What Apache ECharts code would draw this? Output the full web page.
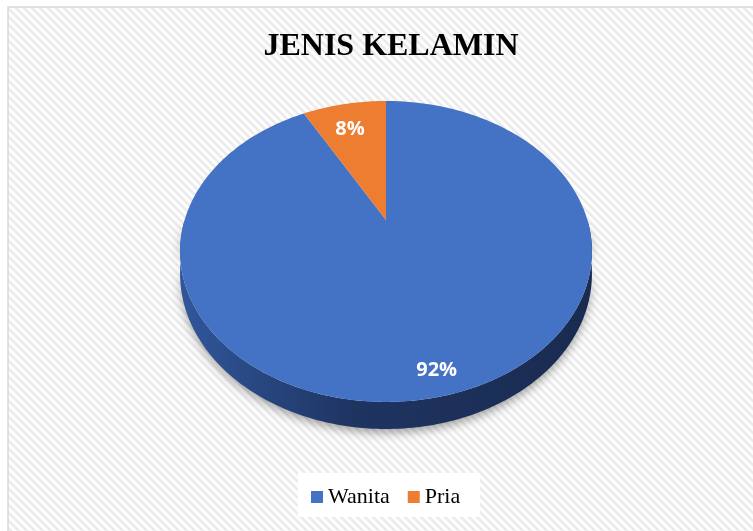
<!DOCTYPE html>
<html>
<head>
<meta charset="utf-8">
<title>Jenis Kelamin</title>
<script src="https://cdn.jsdelivr.net/npm/echarts@6/dist/echarts.min.js"></script>
<style>
  html, body { margin: 0; padding: 0; background: #fff; }
  #main { width: 753px; height: 531px; }
</style>
</head>
<body>
<div id="main"></div>
<script>
// data
var categories = ['Wanita', 'Pria'];
var values = [92, 8];

// warna irisan (atas) dan sisi samping
var topColors = ['#4472C4', '#ED7D31'];
var sideColors = [['#30569a', '#1e3461', '#1a2b50'], ['#b05e24', '#8c4b1d', '#7a4118']];

// geometri pie 3D (elips dengan perspektif)
var cx = 386, cy = 220;
var R = 201.4, H = 143.9, P = 0.209, DEPTH = 21.4;

var total = values.reduce(function (a, b) { return a + b; }, 0);
var startAngles = [];
var acc = 0;
for (var i = 0; i < values.length; i++) {
  startAngles.push(acc / total * 360);
  acc += values[i];
}

// sudut searah jarum jam dari jam 12
function project(deg, f, down) {
  var t = deg * Math.PI / 180;
  var u = Math.sin(t) * f, v = -Math.cos(t) * f;
  var w = 1 - P * v;
  return [cx + R * u / w, cy + H * v / w + (down ? DEPTH / w : 0)];
}

function arcPoints(a0, a1, down) {
  var n = Math.max(2, Math.ceil(a1 - a0));
  var pts = [];
  for (var k = 0; k <= n; k++) {
    pts.push(project(a0 + (a1 - a0) * k / n, 1, down));
  }
  return pts;
}

function renderSlice(idx) {
  var a0 = startAngles[idx];
  var a1 = a0 + values[idx] / total * 360;
  var children = [];

  // sisi depan yang terlihat
  var s0 = Math.max(a0, 90), s1 = Math.min(a1, 270);
  if (s1 > s0) {
    var rim = arcPoints(s0, s1, false);
    var low = arcPoints(s0, s1, true).reverse();
    children.push({
      type: 'polygon',
      z2: 1,
      shape: { points: rim.concat(low) },
      style: {
        fill: new echarts.graphic.LinearGradient(cx - R, 0, cx + R, 0, [
          { offset: 0, color: sideColors[idx][0] },
          { offset: 0.42, color: sideColors[idx][1] },
          { offset: 1, color: sideColors[idx][2] }
        ], true),
        shadowBlur: 10,
        shadowOffsetY: 4,
        shadowColor: 'rgba(0,0,0,0.35)'
      }
    });
  }

  // permukaan atas
  children.push({
    type: 'polygon',
    z2: 10,
    shape: { points: [project(0, 0, false)].concat(arcPoints(a0, a1, false)) },
    style: { fill: topColors[idx] }
  });

  // label persen
  var lp = project((a0 + a1) / 2, 0.84, false);
  children.push({
    type: 'text',
    z2: 20,
    x: lp[0],
    y: lp[1] + 9,
    style: {
      text: Math.round(values[idx] / total * 100) + '%',
      fill: '#ffffff',
      font: 'bold 20px "Open Sans"',
      align: 'center',
      verticalAlign: 'middle'
    }
  });

  return { type: 'group', children: children };
}

// pola garis miring untuk latar
var tile = document.createElement('canvas');
tile.width = 8;
tile.height = 8;
var g = tile.getContext('2d');
g.fillStyle = '#fdfdfd';
g.fillRect(0, 0, 8, 8);
g.strokeStyle = '#ebebeb';
g.lineWidth = 2.5;
g.beginPath();
g.moveTo(-2, -2); g.lineTo(10, 10);
g.moveTo(-2, 6); g.lineTo(2, 10);
g.moveTo(6, -2); g.lineTo(10, 2);
g.stroke();

var chart = echarts.init(document.getElementById('main'), null, { renderer: 'canvas' });

var series = categories.map(function (name, idx) {
  return {
    type: 'custom',
    name: name,
    coordinateSystem: 'none',
    itemStyle: { color: topColors[idx] },
    data: [values[idx]],
    renderItem: function () { return renderSlice(idx); }
  };
});

chart.setOption({
  backgroundColor: '#ffffff',
  animation: false,
  title: {
    text: 'JENIS KELAMIN',
    left: 386,
    top: 26,
    textAlign: 'center',
    textStyle: {
      fontFamily: '"Liberation Serif", "Times New Roman", serif',
      fontWeight: 'bold',
      fontSize: 32,
      color: '#000'
    }
  },
  legend: {
    data: categories.map(function (name, idx) {
      return { name: name, itemStyle: { color: topColors[idx] } };
    }),
    left: 298,
    top: 473,
    icon: 'rect',
    itemWidth: 12,
    itemHeight: 12,
    itemGap: 18,
    selectedMode: false,
    backgroundColor: '#ffffff',
    padding: [13, 20, 9, 13],
    textStyle: {
      fontFamily: '"Liberation Serif", "Times New Roman", serif',
      fontSize: 22,
      color: '#000'
    }
  },
  graphic: [{
    type: 'rect',
    z: -1,
    silent: true,
    shape: { x: 8, y: 7, width: 760, height: 540 },
    style: {
      fill: { image: tile, repeat: 'repeat' },
      stroke: '#d9d9d9',
      lineWidth: 1.5
    }
  }],
  series: series
});
</script>
</body>
</html>
